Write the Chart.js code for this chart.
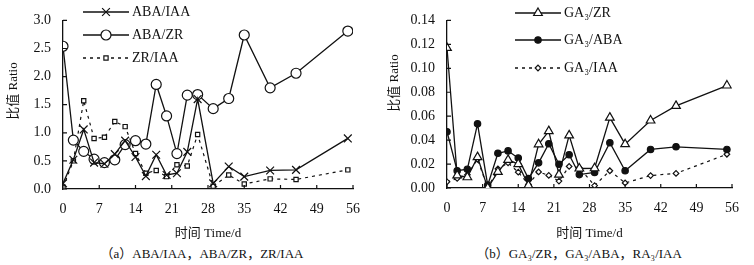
<!DOCTYPE html>
<html lang="zh">
  <head>
    <meta charset="UTF-8" />
    <title>比值 Ratio</title>
    <style>
      * {
        margin: 0;
        padding: 0;
      }
      body {
        width: 754px;
        height: 265px;
        background: #fff;
        overflow: hidden;
        font-family: "Liberation Serif", "Noto Sans CJK SC", serif;
      }
      .panel {
        position: absolute;
        top: 0;
        width: 377px;
        height: 265px;
      }
      .panel canvas {
        display: block;
      }
      .caption {
        height: 22px;
        line-height: 22px;
        font-size: 13px;
        text-align: center;
        padding-left: 27px;
        color: #111;
      }
    </style>
  </head>
  <body>
    <div class="panel" style="left: 0">
      <canvas id="chartA" width="377" height="243"></canvas>
      <div class="caption">（a）ABA/IAA，ABA/ZR，ZR/IAA</div>
    </div>
    <div class="panel" style="left: 377px">
      <canvas id="chartB" width="377" height="243"></canvas>
      <div class="caption">（b）GA₃/ZR，GA₃/ABA，RA₃/IAA</div>
    </div>

    <script src="https://cdn.jsdelivr.net/npm/chart.js"></script>

    <script>
      // data block
      const days = [0, 2, 4, 6, 8, 10, 12, 14, 16, 18, 20, 22, 24, 26, 29, 32, 35, 40, 45, 55];
      const xTicks = [0, 7, 14, 21, 28, 35, 42, 49, 56];

      const abaIaa = [0.1, 0.52, 1.06, 0.47, 0.45, 0.62, 0.86, 0.57, 0.23, 0.61, 0.25, 0.28, 0.66, 1.6, 0.1, 0.4, 0.22, 0.33, 0.34, 0.9];
      const abaZr = [2.54, 0.87, 0.67, 0.53, 0.47, 0.52, 0.79, 0.86, 0.8, 1.86, 1.3, 0.63, 1.67, 1.68, 1.43, 1.61, 2.74, 1.8, 2.06, 2.81];
      const zrIaa = [0.03, 0.5, 1.57, 0.9, 0.92, 1.2, 1.11, 0.63, 0.28, 0.33, 0.22, 0.43, 0.41, 0.97, 0.05, 0.25, 0.09, 0.18, 0.17, 0.34];

      const ga3Zr = [0.117, 0.0105, 0.009, 0.0258, 0.0, 0.0135, 0.0235, 0.02, 0.0022, 0.0365, 0.0475, 0.0112, 0.044, 0.0163, 0.0165, 0.0588, 0.0366, 0.0564, 0.0686, 0.0856];
      const ga3Aba = [0.047, 0.0144, 0.0157, 0.0536, 0.0024, 0.029, 0.031, 0.025, 0.0078, 0.021, 0.037, 0.0198, 0.0278, 0.0112, 0.013, 0.0378, 0.0144, 0.0322, 0.0344, 0.0322];
      const ga3Iaa = [0.0052, 0.008, 0.011, 0.024, 0.0, 0.016, 0.021, 0.0132, 0.003, 0.0134, 0.0105, 0.0058, 0.018, 0.017, 0.002, 0.0144, 0.0042, 0.0104, 0.0122, 0.0282];

      const serif = '"Liberation Serif", "Noto Sans CJK SC", serif';
      const ink = "#111";

      function pts(vals) {
        return vals.map((v, i) => ({ x: days[i], y: v }));
      }

      function series(label, vals, style) {
        return Object.assign(
          {
            label,
            data: pts(vals),
            borderColor: ink,
            borderWidth: 1.3,
            pointBorderColor: ink,
            pointBackgroundColor: "#fff",
            pointBorderWidth: 1.2,
            tension: 0
          },
          style
        );
      }

      // inward ticks, y title and in-plot legend
      const decor = {
        id: "decor",
        afterDraw(chart, args, opts) {
          const ctx = chart.ctx;
          const { left, bottom } = chart.chartArea;
          const xs = chart.scales.x;
          const ys = chart.scales.y;
          ctx.save();
          ctx.strokeStyle = ink;
          ctx.lineWidth = 1.2;
          ctx.beginPath();
          xs.ticks.forEach((t) => {
            const px = xs.getPixelForValue(t.value);
            ctx.moveTo(px, bottom);
            ctx.lineTo(px, bottom - 4);
          });
          ys.ticks.forEach((t) => {
            const py = ys.getPixelForValue(t.value);
            ctx.moveTo(left, py);
            ctx.lineTo(left + 4, py);
          });
          ctx.stroke();
          ctx.restore();

          // y title
          ctx.save();
          ctx.fillStyle = ink;
          ctx.font = "13px " + serif;
          ctx.translate(opts.titleX, opts.titleY);
          ctx.rotate(-Math.PI / 2);
          ctx.textAlign = "center";
          ctx.textBaseline = "middle";
          ctx.fillText("比值 Ratio", 0, 0);
          ctx.restore();

          // legend
          chart.data.datasets.forEach((ds, i) => {
            const y = opts.legendY[i];
            ctx.save();
            ctx.strokeStyle = ink;
            ctx.lineWidth = 1.3;
            ctx.setLineDash(ds.borderDash || []);
            ctx.beginPath();
            ctx.moveTo(opts.legendX0, y);
            ctx.lineTo(opts.legendX1, y);
            ctx.stroke();
            ctx.setLineDash([]);
            ctx.fillStyle = ds.pointBackgroundColor;
            ctx.strokeStyle = ink;
            ctx.lineWidth = ds.pointBorderWidth;
            Chart.helpers.drawPoint(
              ctx,
              { pointStyle: ds.pointStyle, radius: ds.pointRadius, rotation: 0, borderWidth: ds.pointBorderWidth },
              (opts.legendX0 + opts.legendX1) / 2,
              y
            );
            ctx.fillStyle = ink;
            ctx.font = "14px " + serif;
            ctx.textAlign = "left";
            ctx.textBaseline = "middle";
            ctx.fillText(ds.label, opts.legendX1 + 3, y);
            ctx.restore();
          });
        }
      };

      function makeConfig(datasets, yMax, yStep, decimals, yWidth, pad, xHeight, decorOpts) {
        const tickFont = { family: serif, size: 14 };
        return {
          type: "line",
          data: { datasets },
          options: {
            responsive: false,
            animation: false,
            layout: { padding: pad },
            plugins: {
              legend: { display: false },
              tooltip: { enabled: false },
              decor: decorOpts
            },
            scales: {
              x: {
                type: "linear",
                min: 0,
                max: 56,
                afterBuildTicks: (s) => {
                  s.ticks = xTicks.map((v) => ({ value: v }));
                },
                grid: { display: false, drawTicks: false },
                border: { display: true, color: ink, width: 1.3 },
                ticks: { font: tickFont, color: ink, padding: 12, maxRotation: 0 },
                title: {
                  display: true,
                  text: "时间 Time/d",
                  font: { family: serif, size: 13 },
                  color: ink,
                  padding: { top: 0, bottom: 2 }
                },
                afterFit: (s) => {
                  s.height = xHeight;
                }
              },
              y: {
                min: 0,
                max: yMax,
                grid: { display: false, drawTicks: false },
                border: { display: true, color: ink, width: 1.3 },
                ticks: {
                  stepSize: yStep,
                  font: tickFont,
                  color: ink,
                  padding: 12,
                  callback: (v) => Number(v).toFixed(decimals)
                },
                afterFit: (s) => {
                  s.width = yWidth;
                }
              }
            }
          },
          plugins: [decor]
        };
      }

      // init render block
      new Chart(
        document.getElementById("chartA"),
        makeConfig(
          [
            series("ABA/IAA", abaIaa, { pointStyle: "crossRot", pointRadius: 5.5 }),
            series("ABA/ZR", abaZr, { pointStyle: "circle", pointRadius: 5 }),
            series("ZR/IAA", zrIaa, { pointStyle: "rect", pointRadius: 3, borderDash: [3, 4], borderWidth: 1.2 })
          ],
          3,
          0.5,
          1,
          63,
          { top: 15, right: 24, left: 0, bottom: 0 },
          54,
          { titleX: 14, titleY: 91, legendY: [12, 35, 58], legendX0: 83, legendX1: 129 }
        )
      );

      new Chart(
        document.getElementById("chartB"),
        makeConfig(
          [
            series("GA₃/ZR", ga3Zr, { pointStyle: "triangle", pointRadius: 5 }),
            series("GA₃/ABA", ga3Aba, { pointStyle: "circle", pointRadius: 3.2, pointBackgroundColor: ink }),
            series("GA₃/IAA", ga3Iaa, { pointStyle: "rectRot", pointRadius: 2.8, borderDash: [3, 4], borderWidth: 1.2 })
          ],
          0.14,
          0.02,
          2,
          70,
          { top: 13, right: 22, left: 0, bottom: 0 },
          55,
          { titleX: 18, titleY: 83, legendY: [13, 40, 68], legendX0: 138, legendX1: 184 }
        )
      );
    </script>
  </body>
</html>
